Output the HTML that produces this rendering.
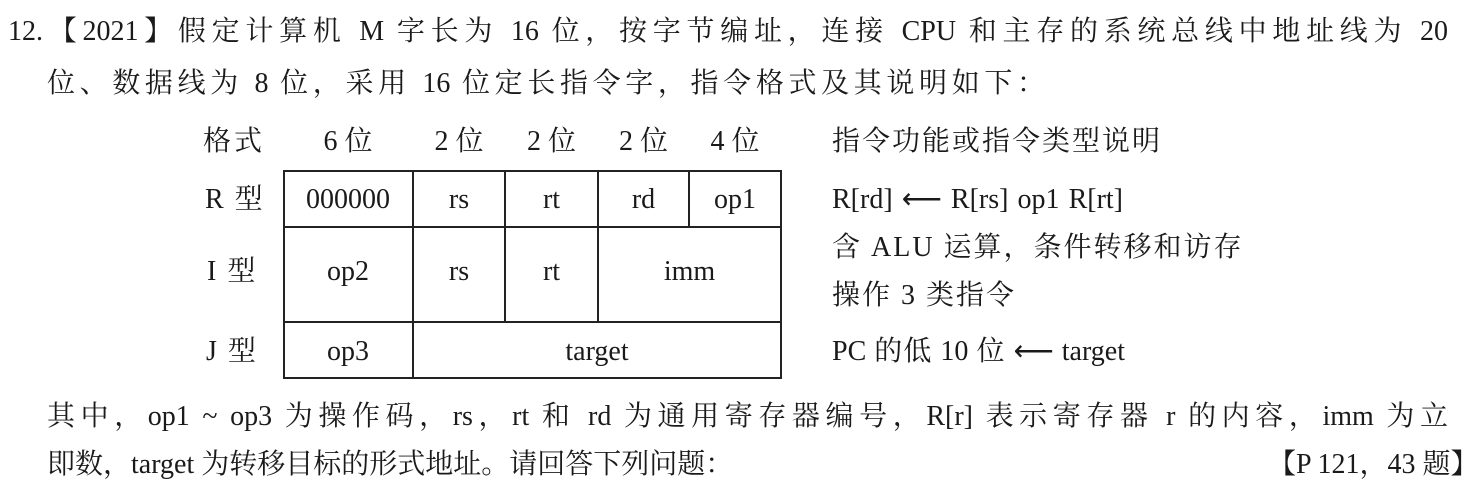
<!DOCTYPE html>
<html><head><meta charset="utf-8"><style>
html,body{margin:0;padding:0;background:#fff;}
body{width:1474px;height:504px;position:relative;overflow:hidden;color:#1a1a1a;
font-family:"Liberation Serif","Noto Serif CJK SC",serif;font-size:28px;}
.t{position:absolute;white-space:nowrap;line-height:28px;height:28px;}
.j{text-align:justify;text-align-last:justify;}
.c{text-align:center;}
.s{letter-spacing:2px;}
.b{position:absolute;background:#222;}
</style></head><body>
<div class="t j" style="left:8px;top:18px;width:1440px;">12.【2021】假定计算机 M 字长为 16 位，按字节编址，连接 CPU 和主存的系统总线中地址线为 20</div>
<div class="t j" style="left:47px;top:70px;width:998px;">位、数据线为 8 位，采用 16 位定长指令字，指令格式及其说明如下：</div>

<div class="t j" style="left:203px;top:128px;width:59px;">格式</div>
<div class="t c" style="left:283px;top:128px;width:130px;">6 位</div>
<div class="t c" style="left:413px;top:128px;width:92px;">2 位</div>
<div class="t c" style="left:505px;top:128px;width:93px;">2 位</div>
<div class="t c" style="left:598px;top:128px;width:91px;">2 位</div>
<div class="t c" style="left:689px;top:128px;width:92px;">4 位</div>
<div class="t s" style="left:832px;top:128px;">指令功能或指令类型说明</div>

<div class="t s" style="left:205px;top:186px;">R 型</div>
<div class="t s" style="left:207px;top:258px;">I 型</div>
<div class="t s" style="left:206px;top:338px;">J 型</div>

<div class="b" style="left:283px;top:170px;width:499px;height:2px;"></div>
<div class="b" style="left:283px;top:226px;width:499px;height:2px;"></div>
<div class="b" style="left:283px;top:321px;width:499px;height:2px;"></div>
<div class="b" style="left:283px;top:377px;width:499px;height:2px;"></div>
<div class="b" style="left:283px;top:170px;width:2px;height:209px;"></div>
<div class="b" style="left:780px;top:170px;width:2px;height:209px;"></div>
<div class="b" style="left:412px;top:170px;width:2px;height:209px;"></div>
<div class="b" style="left:504px;top:170px;width:2px;height:152px;"></div>
<div class="b" style="left:597px;top:170px;width:2px;height:152px;"></div>
<div class="b" style="left:688px;top:170px;width:2px;height:57px;"></div>

<div class="t c" style="left:283px;top:186px;width:130px;">000000</div>
<div class="t c" style="left:413px;top:186px;width:92px;">rs</div>
<div class="t c" style="left:505px;top:186px;width:93px;">rt</div>
<div class="t c" style="left:598px;top:186px;width:91px;">rd</div>
<div class="t c" style="left:689px;top:186px;width:92px;">op1</div>

<div class="t c" style="left:283px;top:258px;width:130px;">op2</div>
<div class="t c" style="left:413px;top:258px;width:92px;">rs</div>
<div class="t c" style="left:505px;top:258px;width:93px;">rt</div>
<div class="t c" style="left:598px;top:258px;width:183px;">imm</div>

<div class="t c" style="left:283px;top:338px;width:130px;">op3</div>
<div class="t c" style="left:413px;top:338px;width:368px;">target</div>

<div class="t j" style="left:832px;top:186px;width:291px;">R[rd] ⟵ R[rs] op1 R[rt]</div>
<div class="t s" style="left:832px;top:234px;">含 ALU 运算，条件转移和访存</div>
<div class="t s" style="left:832px;top:282px;">操作 3 类指令</div>
<div class="t j" style="left:832px;top:338px;width:293px;">PC 的低 10 位 ⟵ target</div>

<div class="t j" style="left:47px;top:403px;width:1401px;">其中，op1 ~ op3 为操作码，rs，rt 和 rd 为通用寄存器编号，R[r] 表示寄存器 r 的内容，imm 为立</div>
<div class="t j" style="left:47px;top:451px;width:663px;">即数，target 为转移目标的形式地址。请回答下列问题：</div>
<div class="t j" style="left:1268px;top:451px;width:180px;">【P 121，43 题】</div>
</body></html>
